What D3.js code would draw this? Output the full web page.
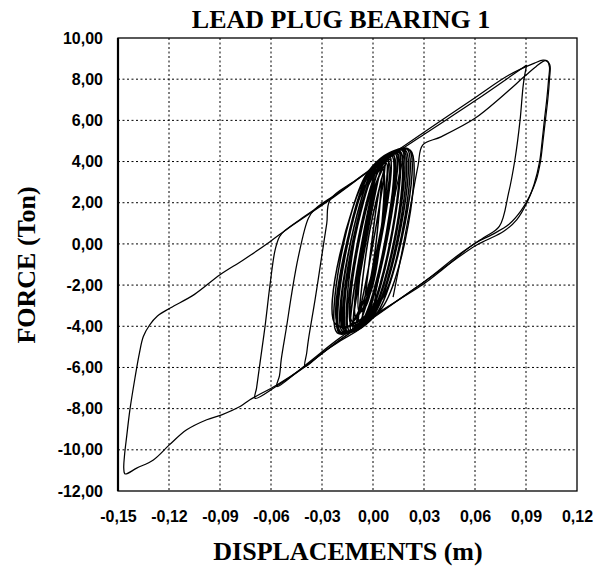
<!doctype html>
<html lang="en">
<head>
	<meta charset="UTF-8">
	<title>Lead plug bearing 1</title>
	<style>
		body { margin: 0; background: #fff; }
		.tick text { font-family: "Liberation Sans", Arial, sans-serif; font-weight: bold; font-size: 16px; fill: #000; }
		.title { font-family: "Liberation Serif", "Times New Roman", serif; font-weight: bold; font-size: 26px; fill: #000; }
		.grid line { stroke: #000; stroke-width: 1; stroke-dasharray: 2,2.5; }
		.trace { fill: none; stroke: #000; stroke-width: 1.25; stroke-linejoin: round; }
		.trace.core { stroke-width: 1.5; }
	</style>
</head>
<body>
	<script src="https://cdn.jsdelivr.net/npm/d3@7"></script>
	<script>
		// axis ticks
		var xTicks = [-0.15, -0.12, -0.09, -0.06, -0.03, 0, 0.03, 0.06, 0.09, 0.12],
			yTicks = [-12, -10, -8, -6, -4, -2, 0, 2, 4, 6, 8, 10];

		// [displacement (m), force (Ton)]

		// loop up to the 0.09 tip, then the big negative excursion to -0.146
		var loopBig = [
			[0.0904, 8.69], [0.0885, 7.8], [0.0865, 6.0], [0.0835, 4.1], [0.0797, 2.45], [0.0743, 0.85],
			[0.065, 0.3], [0.05, -0.55], [0.03, -1.85], [0.0, -3.55], [-0.02, -4.7], [-0.04, -5.95],
			[-0.0566, -6.85], [-0.0724, -7.57], [-0.0782, -7.9], [-0.089, -8.3], [-0.0978, -8.54],
			[-0.1096, -9.03], [-0.1198, -9.76], [-0.1292, -10.49], [-0.139, -10.89], [-0.1459, -11.17],
			[-0.1466, -10.9], [-0.1462, -10.3], [-0.1449, -9.35], [-0.143, -8.06], [-0.14, -6.5],
			[-0.1374, -5.3], [-0.1351, -4.5], [-0.1315, -3.95], [-0.1268, -3.5], [-0.119, -3.1],
			[-0.105, -2.45], [-0.09, -1.5], [-0.0763, -0.78], [-0.0606, 0.11], [-0.0498, 0.76],
			[-0.0253, 2.14], [0.0, 3.67], [0.0306, 5.35], [0.06, 6.95], [0.0904, 8.69]
		];

		// first loop to 0.103, back down to the -0.069 tip
		var loopRightA = [
			[0.0, 3.72], [0.03, 5.42], [0.06, 7.1], [0.08, 8.2], [0.095, 8.78], [0.1, 8.92], [0.1025, 8.88],
			[0.1038, 8.6], [0.1033, 8.0], [0.1022, 7.0], [0.1008, 6.0], [0.0995, 5.0], [0.098, 4.0],
			[0.0948, 2.9], [0.0908, 2.05], [0.0845, 1.17], [0.0767, 0.6], [0.0669, 0.19], [0.06, -0.1],
			[0.04, -1.25], [0.0, -3.6], [-0.0194, -4.66], [-0.04, -5.96], [-0.0566, -6.9], [-0.0694, -7.5],
			[-0.0685, -7.0], [-0.0665, -5.8], [-0.0635, -4.0], [-0.0606, -2.0], [-0.0576, -0.3],
			[-0.055, 0.35], [-0.0518, 0.65], [-0.04, 1.35], [-0.025, 2.2], [-0.015, 2.8]
		];

		// second loop to 0.103 (from the 0.03 reload), back down to the -0.057 tip
		var loopRightB = [
			[0.0118, -2.59], [0.017, -0.4], [0.022, 1.8], [0.0265, 3.8], [0.0292, 4.8], [0.04, 5.2],
			[0.06, 6.1], [0.075, 7.1], [0.09, 8.2], [0.096, 8.62], [0.1015, 8.9], [0.104, 8.7],
			[0.1038, 8.0], [0.1028, 7.0], [0.1014, 6.0], [0.1, 5.0], [0.0985, 4.0], [0.096, 3.1],
			[0.092, 2.3], [0.087, 1.6], [0.08, 0.95], [0.07, 0.45], [0.06, 0.03], [0.0394, -1.34],
			[0.0306, -1.9], [0.0, -3.5], [-0.02, -4.6], [-0.04, -5.9], [-0.0566, -6.93],
			[-0.055, -6.4], [-0.054, -5.63], [-0.0508, -4.0], [-0.0478, -2.4], [-0.0439, -0.62],
			[-0.038, 1.25], [-0.034, 1.7], [-0.02, 2.5], [-0.005, 3.4]
		];

		// loop down to the -0.04 tip
		var loopMid = [
			[0.019, 4.6], [0.014, 2.8], [0.008, 0.4], [0.002, -2.2], [-0.002, -3.7], [-0.02, -4.75],
			[-0.03, -5.3], [-0.04, -5.96], [-0.039, -5.3], [-0.038, -4.66], [-0.0341, -2.72],
			[-0.0302, -0.62], [-0.0272, 1.0], [-0.0253, 2.14], [-0.01, 3.1], [0.005, 4.0], [0.015, 4.55]
		];

		// the dense small cycles around the origin: bottom, upper knee, top, lower knee
		var coreCycles = [
			[-0.009, -3.95], [-0.002, 0.6], [0.009, 4.18], [0.002, -0.6],
			[-0.012, -4.12], [0.0061, 4.01], [0.007, 4.07], [-0.0111, -4.07],
			[-0.013, -4.17], [0.0051, 3.96], [0.010, 4.24], [-0.0081, -3.90],
			[-0.011, -4.06], [0.0071, 4.07], [0.012, 4.35], [-0.0061, -3.79],
			[-0.016, -4.2], [0.0021, 3.79], [0.013, 4.40], [-0.0051, -3.73],
			[-0.014, -4.2], [0.0041, 3.90], [0.015, 4.5], [-0.0031, -3.62],
			[-0.018, -4.25], [0.0001, 3.68], [0.011, 4.29], [-0.0071, -3.84],
			[-0.020, -4.3], [-0.002, 3.56], [0.014, 4.46], [-0.0041, -3.68],
			[-0.019, -4.28], [-0.001, 3.61], [0.017, 4.55], [-0.0011, -3.51],
			[-0.017, -4.22], [0.001, 3.73], [0.019, 4.55], [0.0009, -3.40],
			[-0.016, -4.2], [0.0021, 3.79], [0.018, 4.55], [-0.0001, -3.46],
			[-0.0195, -4.3], [-0.0015, 3.59], [0.016, 4.5], [-0.0021, -3.57],
			[-0.021, -4.32], [-0.0029, 3.51], [0.021, 4.6], [0.0029, -3.29],
			[-0.015, -4.25], [0.003, 3.84], [0.022, 4.55], [0.0044, -3.21],
			[-0.022, -3.9], [-0.004, 3.3], [0.012, 4.3], [-0.006, -3.7],
			[-0.010, -3.6], [0.002, 2.9], [0.008, 3.9], [-0.004, -3.0],
			[-0.008, -3.3], [0.000, 2.5], [0.006, 3.6], [-0.002, -2.5],
			[-0.017, -4.1], [-0.003, 2.8], [0.010, 4.1], [-0.009, -3.95],
			[-0.013, -3.9], [0.003, 3.5], [0.016, 4.45], [0.001, -3.0],
			[-0.020, -4.0], [-0.006, 2.6], [0.009, 4.0], [-0.007, -3.85],
			[-0.006, -3.4], [0.002, 1.8], [0.005, 3.2], [-0.003, -2.2],
			[-0.015, -4.05], [-0.001, 3.2], [0.020, 4.6], [0.006, -2.6],
			[-0.012, -3.8], [0.004, 3.7], [0.014, 4.4], [-0.002, -3.4]
		];

		var traces = [loopBig, loopRightA, loopRightB, loopMid];

		var w = 597,
			h = 571,
			plot = { left: 118, right: 577, top: 38, bottom: 491 };

		var svg = d3.select('body')
			.append('svg')
			.attr('width', w)
			.attr('height', h);

		var xScale = d3.scaleLinear()
			.domain([-0.15, 0.12])
			.range([plot.left, plot.right]);

		var yScale = d3.scaleLinear()
			.domain([-12, 10])
			.range([plot.bottom, plot.top]);

		var commaFormat = d3.formatLocale({
			decimal: ',', thousands: '.', grouping: [3], currency: ['', ''], minus: '-'
		}).format('.2f');

		// dotted grid
		var grid = svg.append('g').attr('class', 'grid');
		grid.selectAll('.gx')
			.data(xTicks.slice(1, -1))
			.enter()
			.append('line')
			.attr('x1', function(d) { return xScale(d); })
			.attr('x2', function(d) { return xScale(d); })
			.attr('y1', plot.top)
			.attr('y2', plot.bottom);
		grid.selectAll('.gy')
			.data(yTicks.slice(1, -1))
			.enter()
			.append('line')
			.attr('x1', plot.left)
			.attr('x2', plot.right)
			.attr('y1', function(d) { return yScale(d); })
			.attr('y2', function(d) { return yScale(d); });

		// axes (labels only)
		var yAxis = svg.append('g')
			.attr('transform', 'translate(' + plot.left + ',0)')
			.call(d3.axisLeft(yScale).tickValues(yTicks).tickSize(0).tickPadding(15).tickFormat(commaFormat));
		yAxis.select('.domain').remove();

		var xAxis = svg.append('g')
			.attr('transform', 'translate(0,' + plot.bottom + ')')
			.call(d3.axisBottom(xScale).tickValues(xTicks).tickSize(0).tickPadding(20).tickFormat(commaFormat));
		xAxis.select('.domain').remove();

		// the hysteresis trace
		var line = d3.line()
			.x(function(d) { return xScale(d[0]); })
			.y(function(d) { return yScale(d[1]); })
			.curve(d3.curveCatmullRom.alpha(0.5));

		svg.selectAll('.trace')
			.data(traces)
			.enter()
			.append('path')
			.attr('class', 'trace')
			.attr('d', line);

		svg.append('path')
			.datum(coreCycles)
			.attr('class', 'trace core')
			.attr('d', line);

		// frame
		svg.append('rect')
			.attr('x', plot.left)
			.attr('y', plot.top)
			.attr('width', plot.right - plot.left)
			.attr('height', plot.bottom - plot.top)
			.attr('fill', 'none')
			.attr('stroke', '#000')
			.attr('stroke-width', 1.3);
		svg.append('line')
			.attr('x1', plot.left).attr('x2', plot.left)
			.attr('y1', plot.top).attr('y2', plot.bottom)
			.attr('stroke', '#000').attr('stroke-width', 2.2);

		// titles
		svg.append('text')
			.attr('class', 'title')
			.attr('x', 341)
			.attr('y', 28)
			.attr('text-anchor', 'middle')
			.text('LEAD PLUG BEARING 1');

		svg.append('text')
			.attr('class', 'title')
			.attr('x', 348)
			.attr('y', 560)
			.attr('text-anchor', 'middle')
			.text('DISPLACEMENTS (m)');

		svg.append('text')
			.attr('class', 'title')
			.attr('transform', 'translate(35,265) rotate(-90)')
			.attr('text-anchor', 'middle')
			.text('FORCE (Ton)');
	</script>
</body>
</html>
